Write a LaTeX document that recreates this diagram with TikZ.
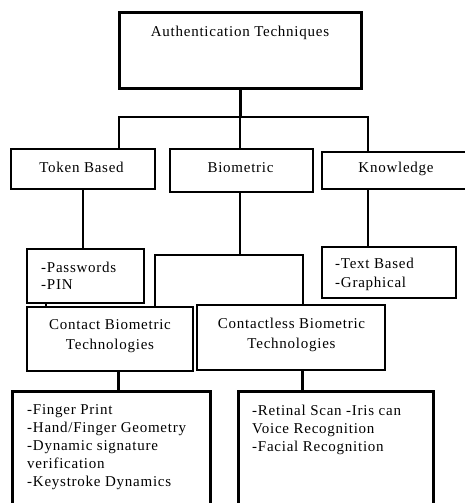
\documentclass[tikz,border=0pt]{standalone}
\usepackage{fontspec}
\setmainfont{Liberation Serif}[LetterSpace=5]
\usetikzlibrary{positioning,calc}

\begin{document}
\begin{tikzpicture}[x=1pt,y=-1pt,
    box/.style={draw,rectangle,inner sep=0pt,fill=white},
    lbl/.style={inner sep=0pt,font=\fontsize{15}{18}\selectfont}]
  \clip (0,0) rectangle (465,503);
  \useasboundingbox (0,0) rectangle (465,503);
  \fill[white] (0,0) rectangle (465,503);

  % boxes
  \node[box,line width=3pt,minimum width=242,minimum height=75] (auth) at (240,50.5) {};
  \node[box,line width=1.5pt,minimum width=144,minimum height=40] (token) at (83,169) {};
  \node[box,line width=2.5pt,minimum width=143,minimum height=43] (bio) at (241.5,170.5) {};
  \node[box,line width=1.5pt,minimum width=145,minimum height=37] (know) at (394.5,170.5) {};
  \node[box,line width=2pt,minimum width=117,minimum height=54] (pass) at (85.5,276) {};
  \node[box,line width=1.5pt,minimum width=134,minimum height=51] (textb) at (389,272.5) {};
  \node[box,line width=1.5pt,minimum width=166,minimum height=64] (contact) at (110,339) {};
  \node[box,line width=1.5pt,minimum width=188,minimum height=65] (contactless) at (291,337.5) {};
  \node[box,line width=3pt,minimum width=198,minimum height=129] (finger) at (111,455.5) {};
  \node[box,line width=3pt,minimum width=195,minimum height=129] (retina) at (335.5,455.5) {};

  % connectors
  \coordinate (hub) at (240,117);
  \coordinate (biohub) at (240,255);
  \draw[line width=3pt] (auth.south) -- (hub);
  \draw[line width=2pt] (hub) -| ([xshift=36pt]token.north);
  \draw[line width=1.5pt] (hub) -| ([xshift=-26.5pt]know.north);
  \draw[line width=1.5pt] (hub) -- (hub |- bio.north);
  \draw[line width=2pt] (token.south) -- (token.south |- pass.north);
  \draw[line width=1.5pt] ([xshift=-26.5pt]know.south) -- ([xshift=-26.5pt]know.south |- textb.north);
  \draw[line width=2.5pt] (biohub |- bio.south) -- (biohub);
  \draw[line width=2.5pt] (biohub) -| ([xshift=45pt]contact.north);
  \draw[line width=2.5pt] (biohub) -| ([xshift=12pt]contactless.north);
  \draw[line width=1.5pt] ([xshift=-39.5pt]pass.south) -- ([xshift=-39.5pt]pass.south |- contact.north);
  \draw[line width=3pt] ([xshift=8pt]contact.south) -- ([xshift=8pt]contact.south |- finger.north);
  \draw[line width=3pt] ([xshift=11pt]contactless.south) -- ([xshift=11pt]contactless.south |- retina.north);

  % labels
  \node[lbl,anchor=base] (authT) at (240,37) {Authentication Techniques};
  \node[lbl,anchor=base] (tokenT) at (81.5,172) {Token Based};
  \node[lbl,anchor=base] (bioT) at (240.5,172) {Biometric};
  \node[lbl,anchor=base] (knowT) at (396,172) {Knowledge};
  \node[lbl,anchor=north west,align=left,font=\fontsize{15}{17}\selectfont] (passT) at (41,261.5) {-Passwords\\-PIN};
  \node[lbl,anchor=north west,align=left,font=\fontsize{15}{19}\selectfont] (textT) at (335,257.5) {-Text Based\\-Graphical};
  \node[lbl,anchor=north,align=center,font=\fontsize{15}{20}\selectfont] (contactT) at (110,319.5) {Contact Biometric\\Technologies};
  \node[lbl,anchor=north,align=center,font=\fontsize{15}{20}\selectfont] (contactlessT) at (291.5,317.5) {Contactless Biometric\\Technologies};
  \node[lbl,anchor=north west,align=left] (fingerT) at (27,404.5) {-Finger Print\\-Hand/Finger Geometry\\-Dynamic signature\\verification\\-Keystroke Dynamics};
  \node[lbl,anchor=north west,align=left] (retinaT) at (252,404.5) {-Retinal Scan -Iris can\\Voice Recognition\\-Facial Recognition};
\end{tikzpicture}
\end{document}
